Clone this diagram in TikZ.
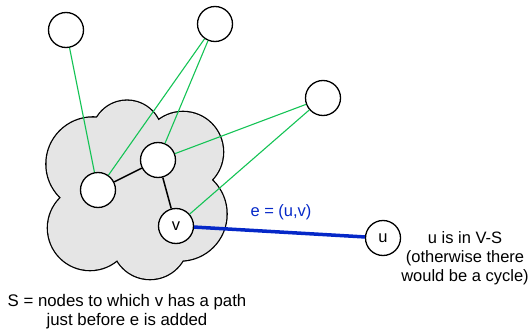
\documentclass[tikz,border=0pt]{standalone}
\usepackage{fontspec}
\setmainfont{Liberation Sans}
\definecolor{edgegreen}{RGB}{20,195,85}
\definecolor{edgeblue}{RGB}{5,40,200}
\definecolor{cloudgray}{RGB}{229,229,229}
\begin{document}
\begin{tikzpicture}[x=1pt,y=-1pt,
  vtx/.style={circle,draw=black,line width=1.3pt,fill=white,minimum size=35pt,inner sep=0pt,font=\fontsize{16.5}{19}\selectfont},
  greenedge/.style={edgegreen,line width=1.1pt},
  blackedge/.style={black,line width=1.5pt},
  blueedge/.style={edgeblue,line width=3.5pt},
  lbl/.style={align=center,font=\fontsize{16.5}{19}\selectfont,inner sep=0pt}]
\useasboundingbox (0,0) rectangle (530,329);
% cloud S: union of lobes, outline by wide stroke then fill
\foreach \cx/\cy/\r in {127/135.6/34.9, 183/152/40, 180/214/46.5, 150/241/38, 90/228/42, 93/164/46.5}
  \draw[black,line width=2.6pt] (\cx,\cy) circle[radius=\r];
\foreach \cx/\cy/\r in {127/135.6/34.9, 183/152/40, 180/214/46.5, 150/241/38, 90/228/42, 93/164/46.5}
  \fill[cloudgray] (\cx,\cy) circle[radius=\r];
\fill[cloudgray] (97.1,117.7) -- (158.4,120.5) -- (211.6,179.9) -- (182.6,260.4) -- (117.1,260) -- (60.9,197.7) -- cycle;
% nodes
\node[vtx] (a) at (66,30) {};
\node[vtx] (b) at (215,24) {};
\node[vtx] (c) at (323,98) {};
\node[vtx] (d) at (98,190) {};
\node[vtx] (e) at (158,160) {};
\node[vtx] (v) at (176,226) {v};
\node[vtx] (u) at (383,238) {u};
% edges
\draw[greenedge] (a) -- (d);
\draw[greenedge] (b) -- (d);
\draw[greenedge] (b) -- (e);
\draw[greenedge] (c) -- (e);
\draw[greenedge] (c) -- (v);
\draw[blackedge] (d) -- (e);
\draw[blackedge] (e) -- (v);
\draw[blueedge] (v) -- (u);
% labels
\node[lbl,text=edgeblue] (elabel) at (281,212) {e = (u,v)};
\node[lbl] (ulabel) at (465,258) {u is in V-S\\(otherwise there\\would be a cycle)};
\node[lbl,font=\fontsize{16.8}{19}\selectfont] (slabel) at (127,311.5) {S = nodes to which v has a path\\just before e is added};
\end{tikzpicture}
\end{document}
